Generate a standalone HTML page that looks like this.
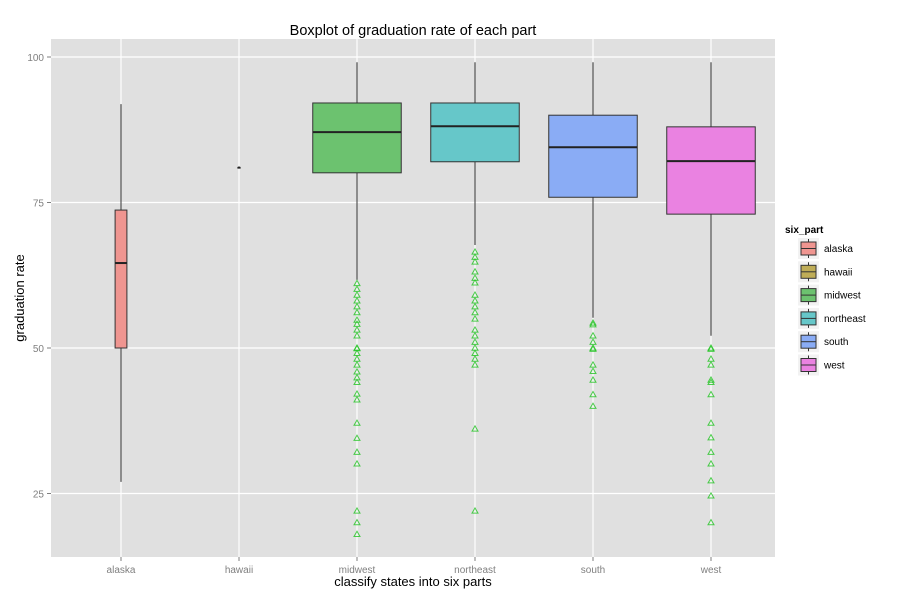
<!DOCTYPE html>
<html><head><meta charset="utf-8"><style>
body{margin:0;background:#fff;font-family:"Liberation Sans",sans-serif}
svg text{font-family:"Liberation Sans",sans-serif}
</style></head><body>
<svg id="c" width="900" height="600" xmlns="http://www.w3.org/2000/svg">
<rect x="0" y="0" width="900" height="600" fill="#fff"/>
<rect x="51" y="39" width="724" height="518" fill="#e0e0e0"/>
<g id="grid"></g><g id="marks"></g><g id="axes"></g>
<text x="413" y="35" text-anchor="middle" font-size="14.5" fill="#000">Boxplot of graduation rate of each part</text>
<text x="413" y="586" text-anchor="middle" font-size="13" fill="#000">classify states into six parts</text>
<text transform="translate(24,298) rotate(-90)" text-anchor="middle" font-size="13" fill="#000">graduation rate</text>
<g id="legend"><text x="785" y="233" font-size="10" font-weight="bold" fill="#000">six_part</text></g>
</svg>
<script>
const categories=["alaska","hawaii","midwest","northeast","south","west"];
const fills=["#ef9590","#bfad57","#6cc26f","#66c7c9","#8aacf5","#ea82e1"];
const q1=[50,81,80.1,82,75.9,73];
const med=[64.6,81,87.1,88.1,84.5,82.1];
const q3=[73.7,81,92.1,92.1,90,88];
const whiskLo=[27,81,61.7,67.7,55.2,52.1];
const whiskHi=[91.9,81,99.1,99.1,99.1,99.1];
const widths=[0.1,0.02,0.75,0.75,0.75,0.75];
const outliers=[[],[],
[61.1,60.1,59.1,58.1,57.1,56.1,54.8,54.1,53.1,52.1,50,49.9,49.1,48.1,47.1,45.9,44.9,44.1,42.1,41.1,37.1,34.5,32.1,30.1,22,20,18],
[66.5,65.6,64.8,63.1,62,61.2,59.1,58.1,57.1,56.1,55,53.1,52.1,51,50,49.1,48.1,47.1,36.1,22],
[54.3,54,52.1,51,49.8,50,47.1,46,44.5,42,40],
[49.8,50,48.1,47.1,44.5,44.1,42,37.1,34.6,32.1,30.1,27.2,24.6,20]];
const yTicks=[25,50,75,100];
const NS="http://www.w3.org/2000/svg";
const y=v=>57+(100-v)*5.82;
const x=i=>121+i*118;
const bw=118;
function mk(p,t,a){const e=document.createElementNS(NS,t);for(const k in a)e.setAttribute(k,a[k]);p.appendChild(e);return e;}
const G=document.getElementById('grid'),M=document.getElementById('marks'),A=document.getElementById('axes'),L=document.getElementById('legend');
yTicks.forEach(t=>{
 const l=mk(G,'line',{x1:51,x2:775,y1:y(t),y2:y(t),stroke:'#fff','stroke-width':1.2});
 
 
 const tk=mk(A,'line',{x1:47,x2:51,y1:y(t),y2:y(t),stroke:'#7f7f7f'});
 
 
 const tx=mk(A,'text',{x:44,y:y(t)+4,'text-anchor':'end','font-size':10,fill:'#7f7f7f'});tx.textContent=t;
 
 
});
categories.forEach((c,i)=>{
 const gl=mk(G,'line',{x1:x(i),x2:x(i),y1:39,y2:557,stroke:'#fff','stroke-width':1.2});
 
 
 const tk=mk(A,'line',{x1:x(i),x2:x(i),y1:557,y2:561,stroke:'#7f7f7f'});
 
 
 const tx=mk(A,'text',{x:x(i),y:573,'text-anchor':'middle','font-size':10,fill:'#7f7f7f'});tx.textContent=c;
 
 
 const g=mk(M,'g',{});
 
 
 const w=widths[i]*bw;
 mk(g,'line',{x1:x(i),x2:x(i),y1:y(whiskHi[i]),y2:y(q3[i]),stroke:'#333'});
 mk(g,'line',{x1:x(i),x2:x(i),y1:y(q1[i]),y2:y(whiskLo[i]),stroke:'#333'});
 mk(g,'rect',{x:x(i)-w/2,y:y(q3[i]),width:w,height:Math.max(y(q1[i])-y(q3[i]),0.5),fill:fills[i],stroke:'#333'});
 mk(g,'line',{x1:x(i)-w/2,x2:x(i)+w/2,y1:y(med[i]),y2:y(med[i]),stroke:'#222','stroke-width':2});
 outliers[i].forEach(v=>{
  const p=mk(g,'path',{d:`M${x(i)-3},${y(v)+2.2}L${x(i)},${y(v)-3}L${x(i)+3},${y(v)+2.2}Z`,fill:'none',stroke:'#22c422','stroke-opacity':0.8});
  
  
 });
 const ly=238+i*23.3;
 const le=mk(L,'g',{});
 
 
 mk(le,'rect',{x:798,y:ly,width:21,height:21,fill:'#f2f2f2'});
 mk(le,'line',{x1:808.5,x2:808.5,y1:ly+1,y2:ly+20,stroke:'#333'});
 mk(le,'rect',{x:801,y:ly+4,width:15,height:13,fill:fills[i],stroke:'#333'});
 mk(le,'line',{x1:801,x2:816,y1:ly+10.5,y2:ly+10.5,stroke:'#333'});
 const lt=mk(le,'text',{x:824,y:ly+14,'font-size':10,fill:'#000'});lt.textContent=c;
});
</script>
</body></html>
